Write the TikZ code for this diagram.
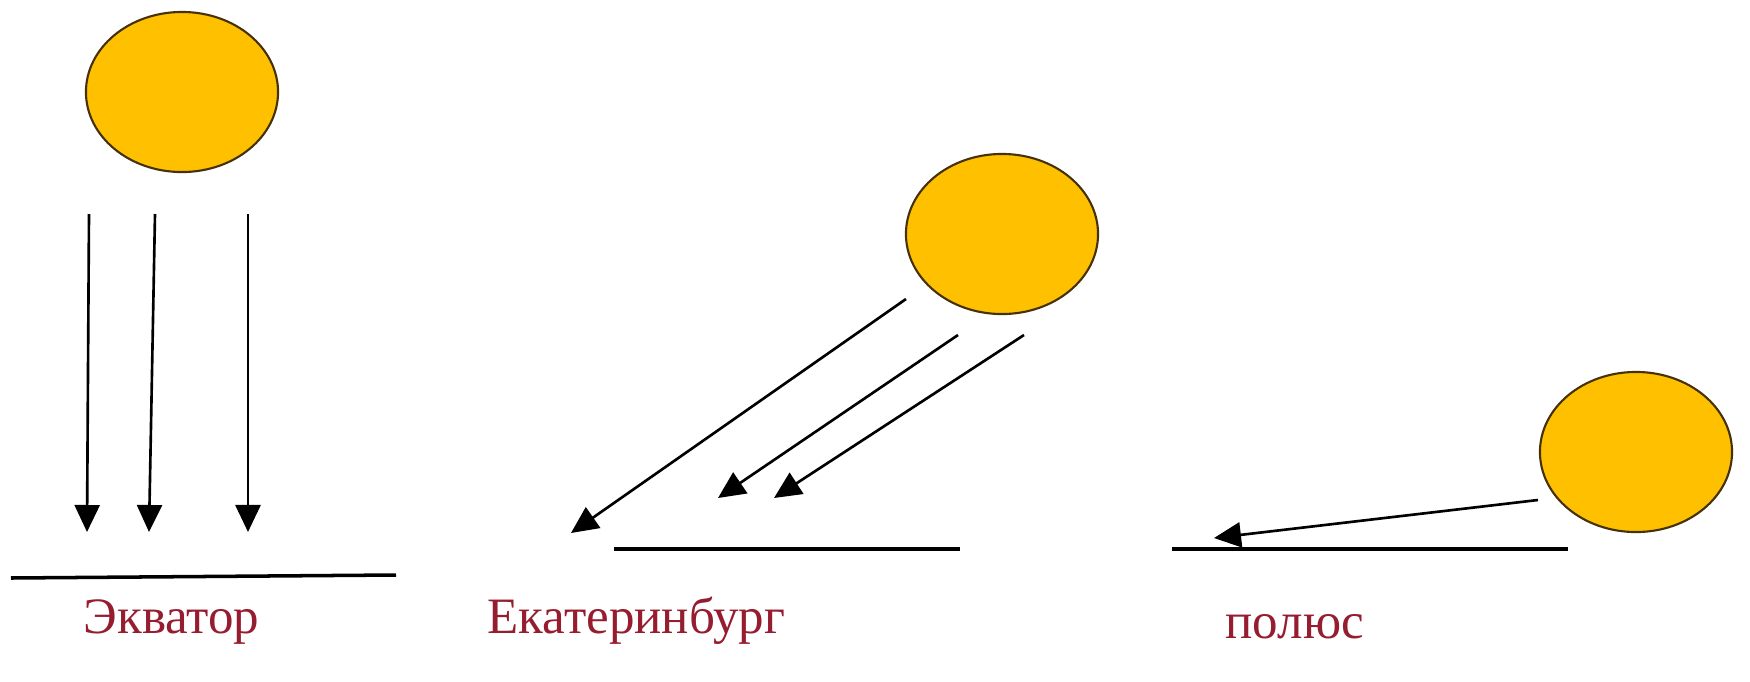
\documentclass[tikz,border=0pt]{standalone}
\usepackage{fontspec}
\newfontfamily\labfont{Liberation Serif}
\usetikzlibrary{arrows.meta,shapes.geometric}
\definecolor{sunfill}{RGB}{255,192,0}
\definecolor{sunedge}{RGB}{70,50,10}
\definecolor{labred}{RGB}{150,28,48}
\tikzset{
  sun/.style={ellipse,draw=sunedge,line width=0.6pt,fill=sunfill,minimum width=1.92cm,minimum height=1.60cm,inner sep=0pt},
  ray/.style={line width=0.75pt,-{Triangle[width=0.25cm,length=0.27cm]}},
  ground/.style={line width=1.0pt},
  lab/.style={anchor=base west,inner sep=0pt,text=labred,font=\labfont\fontsize{14.5pt}{16pt}\selectfont}
}
\begin{document}
\begin{tikzpicture}[x=0.01cm,y=-0.01cm]
\fill[white] (0,0) rectangle (1750,681);
\useasboundingbox (0,0) rectangle (1750,681);
% --- Equator
\node[sun] (s1) at (182,92) {};
\coordinate (a1s) at (89,214);  \coordinate (a1e) at (87,532);
\coordinate (a2s) at (155,214); \coordinate (a2e) at (149,532);
\coordinate (a3s) at (248,214); \coordinate (a3e) at (248,532);
\draw[ray] (a1s) -- (a1e);
\draw[ray] (a2s) -- (a2e);
\draw[ray] (a3s) -- (a3e);
\coordinate (g1a) at (11,578); \coordinate (g1b) at (396,575);
\draw[ground] (g1a) -- (g1b);
\node[lab] (t1) at (83,633) {Экватор};
% --- Ekaterinburg
\node[sun] (s2) at (1002,234) {};
\coordinate (b1s) at (906,299);  \coordinate (b1e) at (571,533);
\coordinate (b2s) at (958,335);  \coordinate (b2e) at (718,498);
\coordinate (b3s) at (1024,335); \coordinate (b3e) at (774,498);
\draw[ray] (b1s) -- (b1e);
\draw[ray] (b2s) -- (b2e);
\draw[ray] (b3s) -- (b3e);
\coordinate (g2a) at (614,549); \coordinate (g2b) at (960,549);
\draw[ground] (g2a) -- (g2b);
\node[lab] (t2) at (487,633) {Екатеринбург};
% --- Pole
\node[sun] (s3) at (1636,452) {};
\coordinate (c1s) at (1538,500); \coordinate (c1e) at (1214,538);
\draw[ray] (c1s) -- (c1e);
\coordinate (g3a) at (1172,549); \coordinate (g3b) at (1568,549);
\draw[ground] (g3a) -- (g3b);
\node[lab] (t3) at (1225,638) {полюс};
\end{tikzpicture}
\end{document}
